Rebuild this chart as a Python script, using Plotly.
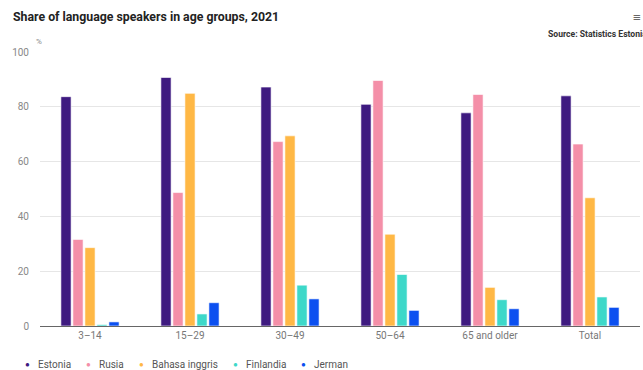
import plotly.graph_objects as go

categories = ["3–14", "15–29", "30–49", "50–64", "65 and older", "Total"]
series_names = ["Estonia", "Rusia", "Bahasa inggris", "Finlandia", "Jerman"]
estonia = [83.7, 90.7, 87.2, 80.9, 77.8, 84.0]
rusia = [31.6, 48.7, 67.3, 89.6, 84.5, 66.4]
bahasa = [28.6, 84.9, 69.4, 33.5, 14.1, 46.8]
finlandia = [0.5, 4.4, 14.9, 18.8, 9.6, 10.6]
jerman = [1.5, 8.5, 9.9, 5.7, 6.3, 6.8]
y_ticks = [0, 20, 40, 60, 80, 100]

colors = ["#3e1a80", "#f48fa8", "#ffb845", "#3dd8c9", "#0b4ff0"]
values = [estonia, rusia, bahasa, finlandia, jerman]

W, H = 643, 370
L, R, T, B = 40, 3, 52, 44
PW, PH = W - L - R, H - T - B


def px(x):
    return (x - L) / PW


def py(y):
    return (H - B - y) / PH


fig = go.Figure()
for name, vals, c in zip(series_names, values, colors):
    fig.add_trace(go.Bar(
        x=categories, y=vals, name=name, showlegend=False,
        marker=dict(color=c, line=dict(color="rgba(255,255,255,0.6)", width=1)),
    ))

fig.update_layout(
    width=W, height=H,
    margin=dict(l=L, r=R, t=T, b=B, autoexpand=False),
    paper_bgcolor="white", plot_bgcolor="white",
    font=dict(family="Roboto", color="#666666", size=10),
    barmode="group", bargap=0.4, bargroupgap=0.15,
    showlegend=False,
    xaxis=dict(showgrid=False, showline=True, linecolor="#666666", linewidth=1,
               ticks="", tickfont=dict(size=10, color="#777777")),
    yaxis=dict(range=[0, 100], tickvals=y_ticks, showgrid=True, gridcolor="#e6e6e6",
               gridwidth=1, zeroline=False, ticks="", tickfont=dict(size=10, color="#888888"),
               ticklabelstandoff=10),
)

fig.add_annotation(text="<b>Share of language speakers in age groups, 2021</b>",
                   xref="paper", yref="paper", x=px(11), y=py(17),
                   xanchor="left", yanchor="middle", showarrow=False,
                   font=dict(size=12.3, color="#222222", family="Roboto"))
fig.add_annotation(text="<b>Source: Statistics Estonia</b>",
                   xref="paper", yref="paper", x=px(546), y=py(34),
                   xanchor="left", yanchor="middle", showarrow=False,
                   font=dict(size=8.6, color="#333333", family="Roboto"))
fig.add_annotation(text="≡",
                   xref="paper", yref="paper", x=px(637), y=py(17),
                   xanchor="center", yanchor="middle", showarrow=False,
                   font=dict(size=14, color="#444444"))
fig.add_annotation(text="%",
                   xref="paper", yref="paper", x=px(39), y=py(42),
                   xanchor="center", yanchor="middle", showarrow=False,
                   font=dict(size=8, color="#888888"))

# legend (dots + labels)
dot_x = [27, 88, 141, 235, 303]
for name, c, dx in zip(series_names, colors, dot_x):
    fig.add_annotation(text="●", xref="paper", yref="paper", x=px(dx), y=py(364),
                       xanchor="center", yanchor="middle", showarrow=False,
                       font=dict(size=8, color=c))
    fig.add_annotation(text=name, xref="paper", yref="paper", x=px(dx + 9), y=py(364),
                       xanchor="left", yanchor="middle", showarrow=False,
                       font=dict(size=10, color="#555555"))

fig.write_html("out.html")
